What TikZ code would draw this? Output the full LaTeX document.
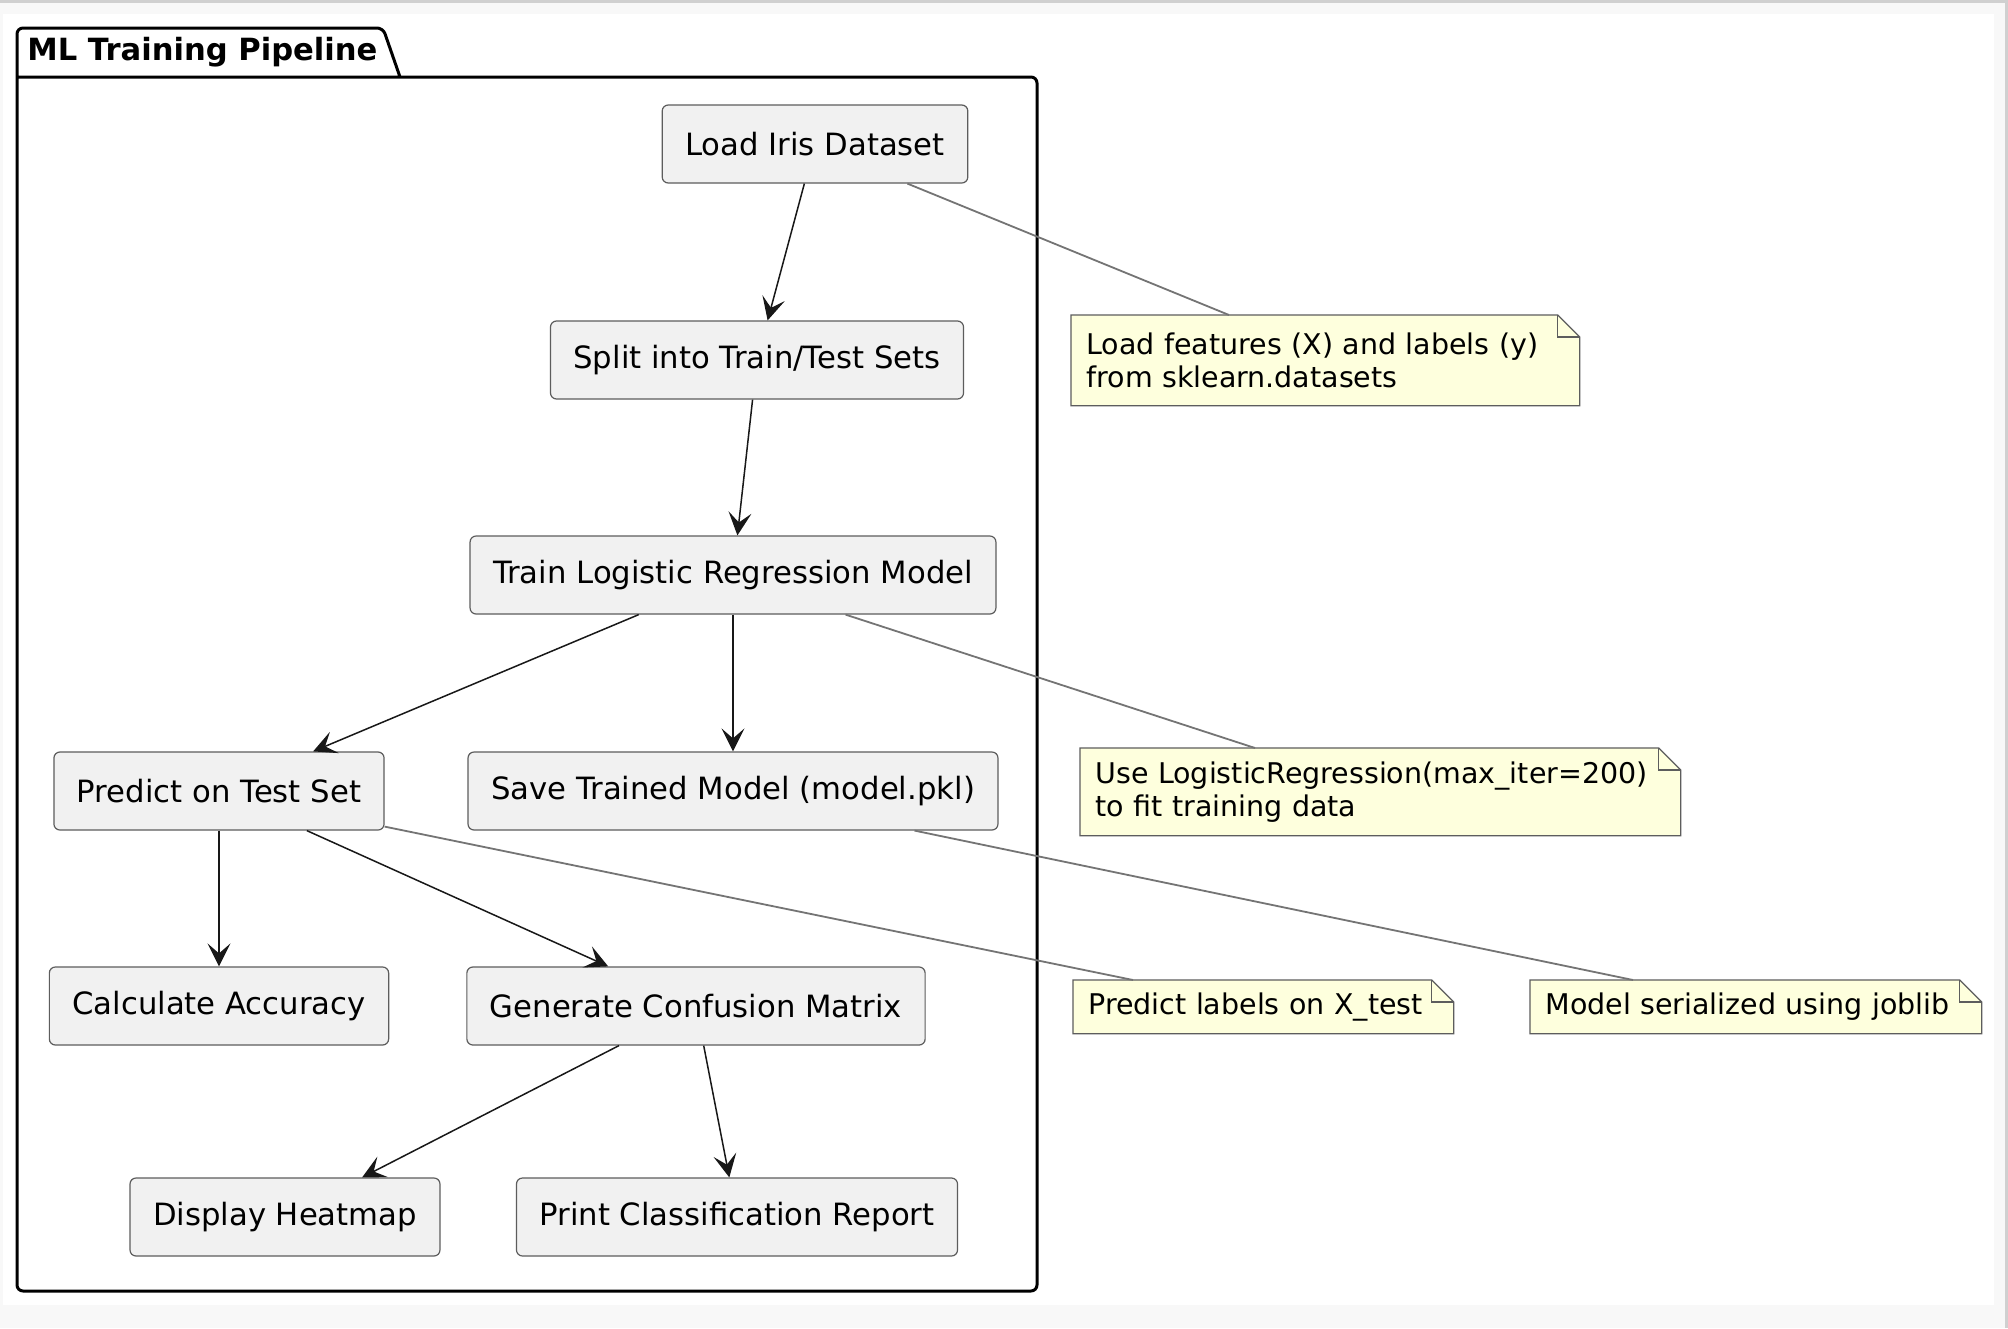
\documentclass[tikz,border=0pt]{standalone}
\usepackage{fontspec}
\setmainfont{DejaVu Sans}
\usetikzlibrary{arrows.meta,backgrounds}

\definecolor{actfill}{HTML}{F1F1F1}
\definecolor{actline}{HTML}{181818}
\definecolor{notefill}{HTML}{FEFFDD}
\definecolor{pagegray}{HTML}{F8F8F8}
\definecolor{edgegray}{HTML}{D0D0D0}

\tikzset{
  act/.style={rectangle, rounded corners=3pt, draw=actline!70, line width=0.6pt,
    fill=actfill, minimum height=39pt, inner xsep=11.5pt,
    font=\fontsize{15.35}{18}\selectfont},
  note/.style={anchor=north west, align=left, inner xsep=7.5pt, inner ysep=0pt,
    font=\fontsize{14.25}{16.5}\selectfont},
  notebox/.style={draw=actline!70, line width=0.6pt, fill=notefill},
  noteline/.style={draw=actline!60, line width=0.9pt},
  flow/.style={draw=actline, line width=0.75pt, -{Stealth[length=11.5pt, width=11.5pt, inset=5pt]}},
  pkg/.style={draw=black, line width=1.5pt, rounded corners=3pt}
}

% folded corner for a note node
\newcommand{\notefold}[1]{%
  \begin{pgfonlayer}{background}
    \filldraw[notebox] (#1.north west) -- ([xshift=-11pt]#1.north east)
      -- ([yshift=-11pt]#1.north east) -- (#1.south east) -- (#1.south west) -- cycle;
    \draw[notebox, fill=none] ([xshift=-11pt]#1.north east) |- ([yshift=-11pt]#1.north east);
  \end{pgfonlayer}}

\begin{document}
\begin{tikzpicture}[x=0.5pt, y=-0.5pt]
  \useasboundingbox (0,0) rectangle (2008,1328);
  \begin{pgfonlayer}{background}
    \fill[pagegray] (0,0) rectangle (2008,1328);
    \fill[edgegray] (0,0) rectangle (2008,3);
    \fill[edgegray] (2005,0) rectangle (2008,1328);
    \fill[white] (3,14) rectangle (1994,1305);
  \end{pgfonlayer}

  % package frame
  \draw[pkg] (400,77) -- (383,28) -- (17,28) -- (17,1291) -- (1037,1291) -- (1037,77) -- (17,77);
  \node[anchor=base west, inner sep=0pt, font=\fontsize{15.3}{18}\bfseries] (title) at (27,60) {ML Training Pipeline};

  % activities
  \node[act] (load) at (815,144) {Load Iris Dataset};
  \node[act] (split) at (757,360) {Split into Train/Test Sets};
  \node[act] (train) at (733,575) {Train Logistic Regression Model};
  \node[act] (predict) at (219,791) {Predict on Test Set};
  \node[act] (save) at (733,791) {Save Trained Model (model.pkl)};
  \node[act] (accuracy) at (219,1006) {Calculate Accuracy};
  \node[act] (confusion) at (696,1006) {Generate Confusion Matrix};
  \node[act] (heatmap) at (285,1217) {Display Heatmap};
  \node[act] (report) at (737,1217) {Print Classification Report};

  \draw[flow] (load) -- (split);
  \draw[flow] (split) -- (train);
  \draw[flow] (train) -- (predict);
  \draw[flow] (train) -- (save);
  \draw[flow] (predict) -- (accuracy);
  \draw[flow] (predict) -- (confusion);
  \draw[flow] (confusion) -- (heatmap);
  \draw[flow] (confusion) -- (report);

  % notes
  \node[note, text width=239pt, minimum height=45pt] (noteload) at (1071,315)
    {Load features (X) and labels (y)\\from sklearn.datasets};
  \node[note, text width=285pt, minimum height=43.5pt] (notetrain) at (1080,748)
    {Use LogisticRegression(max\_iter=200)\\to fit training data};
  \node[note, text width=175pt, minimum height=26.5pt] (notepredict) at (1073,980)
    {Predict labels on X\_test};
  \node[note, text width=210.5pt, minimum height=26.5pt] (notesave) at (1530,980)
    {Model serialized using joblib};
  \notefold{noteload}
  \notefold{notetrain}
  \notefold{notepredict}
  \notefold{notesave}

  \draw[noteline] ([xshift=-30.5pt]load.south east) -- ([xshift=79pt]noteload.north west);
  \draw[noteline] ([xshift=-75.5pt]train.south east) -- ([xshift=87.5pt]notetrain.north west);
  \draw[noteline] ([yshift=2pt]predict.south east) -- ([xshift=30pt]notepredict.north west);
  \draw[noteline] ([xshift=-42pt]save.south east) -- ([xshift=51.5pt]notesave.north west);
\end{tikzpicture}
\end{document}
